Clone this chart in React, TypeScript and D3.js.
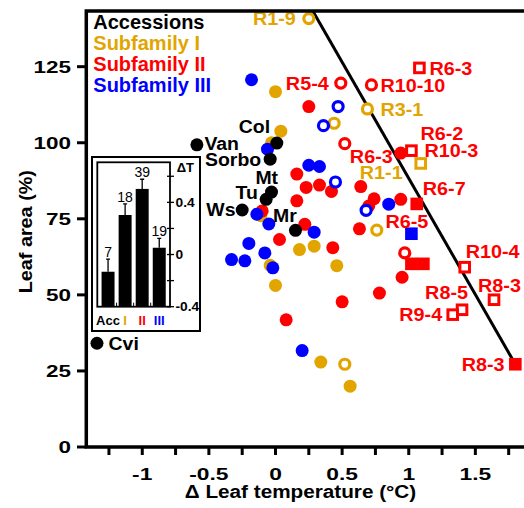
import React, { useRef, useEffect } from 'react';
import * as d3 from 'd3';

const GOLD = '#e2a500';
const RED = '#ff0000';
const BLUE = '#0000ff';

// accessions (black)
const accessionNames = ['Van', 'Col', 'Sorbo', 'Mt', 'Tu', 'Ws', 'Mr', 'Cvi'];
const accessionDT = [-0.59, 0.01, -0.04, -0.03, -0.07, -0.25, 0.15, -1.34];
const accessionArea = [99.3, 99.9, 94.6, 83.8, 81.4, 77.9, 71.2, 34.1];

// subfamily I  [dT, leaf area]
const sub1Dots = [[0, 116.8], [0.04, 103.8], [-0.03, 100], [-0.11, 76], [0.18, 64.9], [0.29, 66], [0.46, 59.6], [-0.04, 59.7], [0, 53.1], [0.34, 27.9], [0.56, 20]];
const sub1Rings = [[0.25, 140.8], [0.69, 111.1], [0.44, 106.4], [0.76, 71.3], [0.52, 27.2]];
const sub1Boxes = [[1.09, 93.2]];

// subfamily II
const sub2Dots = [[0.25, 111.9], [0.94, 96.6], [0.16, 89.7], [0.23, 85.3], [0.33, 86.1], [0.42, 84], [0.64, 85.6], [0.16, 80.9], [0.74, 81.6], [0.7, 79.2], [0.94, 81.4], [0.22, 73.2], [0.63, 71.7], [0.03, 68.2], [0.43, 65.5], [0.95, 55.8], [0.78, 50.6], [0.5, 47.7], [0.08, 41.8], [-0.1, 77.6]];
const sub2Rings = [[0.49, 119.6], [0.72, 119], [0.52, 99.7], [0.97, 63.8]];
const sub2Squares = [[1.06, 79.9], [1.02, 60.2], [1.11, 60.2], [1.8, 27.2]];
const sub2Boxes = [[1.08, 124.6], [1.02, 97.4], [1.42, 59.1], [1.64, 48.4], [1.4, 45.1], [1.33, 43.5]];

// subfamily III
const sub3Dots = [[-0.18, 120.7], [-0.06, 97.9], [0.25, 92.6], [0.33, 92.2], [0.85, 79.8], [0.29, 70.6], [-0.14, 76.5], [-0.05, 73.3], [-0.2, 66.9], [-0.08, 63.8], [-0.33, 61.6], [-0.23, 61.2], [-0.02, 58.9], [0.2, 31.7]];
const sub3Rings = [[0.47, 111.9], [0.36, 105.6], [0.45, 87.1], [0.68, 77.8]];
const sub3Squares = [[1.02, 70.1]];

// fitted line end points
const fitLine = [[0.28, 143.3], [1.8, 27.2]];

// mutant labels: [text, subfamily, dT, area]
const mutantLabels = [
  ['R1-9', 1, 0.25, 140.8], ['R5-4', 2, 0.49, 119.6], ['R10-10', 2, 0.72, 119], ['R6-3', 2, 1.08, 124.6],
  ['R3-1', 1, 0.69, 111.1], ['R6-2', 2, 1.02, 97.4], ['R10-3', 2, 1.02, 97.4], ['R6-3', 2, 0.94, 96.6],
  ['R1-1', 1, 1.09, 93.2], ['R6-7', 2, 1.06, 79.9], ['R6-5', 2, 1.02, 70.1], ['R10-4', 2, 1.42, 59.1],
  ['R8-3', 2, 1.64, 48.4], ['R8-5', 2, 1.4, 45.1], ['R9-4', 2, 1.33, 43.5], ['R8-3', 2, 1.8, 27.2],
];

const legendItems = ['Accessions', 'Subfamily I', 'Subfamily II', 'Subfamily III'];
const yTicks = [0, 25, 50, 75, 100, 125];
const xTickLabels = [-1, -0.5, 0, 0.5, 1, 1.5];

// inset bars
const groupNames = ['Acc', 'I', 'II', 'III'];
const groupDT = [-0.132, 0.303, 0.503, 0.052];
const groupErr = [0.096, 0.085, 0.074, 0.072];
const groupN = [7, 18, 39, 19];
const insetTicks = [-0.4, 0, 0.4];

const colors = ['#000', GOLD, RED, BLUE];
const FONT = "'Liberation Sans', Arial, sans-serif";

// label placement (px offsets from the marker)
const mutantLayout = [
  [-13, 6, 'end'], [-12, 6.5, 'end'], [9, 7, 'start'], [10, 7, 'start'],
  [13, 7, 'start'], [9, -11, 'start'], [13, 6, 'start'], [-8, 10, 'end'],
  [-18, 16, 'end'], [6, -8.5, 'start'], [-26, -6, 'start'], [1, -9, 'start'],
  [-16, -8, 'start'], [6, -11, 'end'], [-10.5, 6.7, 'end'], [-10.7, 6.4, 'end'],
];
const accessionLayout = [
  [7.5, 5, 'start'], [-6.7, -9.7, 'end'], [-9, 6.7, 'end'], [6.6, -8.4, 'end'],
  [-8.4, 0, 'end'], [-6.7, 6, 'end'], [1.3, -8.3, 'end'], [11.6, 6.7, 'start'],
];

const App = () => {
  const svgRef = useRef(null);

  useEffect(() => {
    const svg = d3.select(svgRef.current);
    svg.selectAll('*').remove();

    const x = d3.scaleLinear().domain([-1.42, 1.865]).range([86.3, 524]);
    const y = d3.scaleLinear().domain([0, 143.3]).range([447, 11]);

    const stretch = (sel, k) => sel.each(function () {
      const len = this.getComputedTextLength();
      d3.select(this).attr('textLength', len * k).attr('lengthAdjust', 'spacingAndGlyphs');
    });

    const g = svg.append('g').attr('font-family', FONT).attr('font-weight', 'bold');

    // fit line
    g.append('path')
      .attr('d', d3.line().x(d => x(d[0])).y(d => y(d[1]))(fitLine))
      .attr('stroke', '#000').attr('stroke-width', 3).attr('fill', 'none');

    // markers
    const dots = (data, color) => g.append('g').selectAll('circle').data(data).enter().append('circle')
      .attr('cx', d => x(d[0])).attr('cy', d => y(d[1])).attr('r', 6.5).attr('fill', color);
    const rings = (data, color) => g.append('g').selectAll('circle').data(data).enter().append('circle')
      .attr('cx', d => x(d[0])).attr('cy', d => y(d[1])).attr('r', 5).attr('fill', '#fff')
      .attr('stroke', color).attr('stroke-width', 3.2);
    const squares = (data, color) => g.append('g').selectAll('rect').data(data).enter().append('rect')
      .attr('x', d => x(d[0]) - 6.3).attr('y', d => y(d[1]) - 6.3).attr('width', 12.6).attr('height', 12.6)
      .attr('fill', color);
    const boxes = (data, color) => g.append('g').selectAll('rect').data(data).enter().append('rect')
      .attr('x', d => x(d[0]) - 4.8).attr('y', d => y(d[1]) - 4.8).attr('width', 9.6).attr('height', 9.6)
      .attr('fill', '#fff').attr('stroke', color).attr('stroke-width', 3);

    dots(sub1Dots, GOLD);
    dots(sub2Dots, RED);
    dots(sub3Dots, BLUE);
    rings(sub1Rings, GOLD);
    rings(sub2Rings, RED);
    rings(sub3Rings, BLUE);
    squares(sub2Squares, RED);
    squares(sub3Squares, BLUE);
    boxes(sub1Boxes, GOLD);
    boxes(sub2Boxes, RED);
    dots(accessionDT.map((d, i) => [d, accessionArea[i]]), '#000');

    // labels
    g.append('g').selectAll('text').data(mutantLabels).enter().append('text')
      .attr('x', (d, i) => x(d[2]) + mutantLayout[i][0])
      .attr('y', (d, i) => y(d[3]) + mutantLayout[i][1])
      .attr('text-anchor', (d, i) => mutantLayout[i][2])
      .attr('font-size', 18).attr('fill', d => colors[d[1]])
      .text(d => d[0])
      .call(stretch, 1.1);

    g.append('g').selectAll('text').data(accessionNames).enter().append('text')
      .attr('x', (d, i) => x(accessionDT[i]) + accessionLayout[i][0])
      .attr('y', (d, i) => y(accessionArea[i]) + accessionLayout[i][1])
      .attr('text-anchor', (d, i) => accessionLayout[i][2])
      .attr('font-size', 18).attr('fill', '#000')
      .text(d => d)
      .call(stretch, 1.08);

    // legend
    g.append('g').selectAll('text').data(legendItems).enter().append('text')
      .attr('x', 93.3).attr('y', (d, i) => 29.3 + i * 20.8)
      .attr('font-size', 20).attr('fill', (d, i) => colors[i])
      .text(d => d);

    // frame / axes
    const frame = g.append('g').attr('stroke', '#000').attr('stroke-width', 3.5).attr('fill', 'none');
    frame.append('path').attr('d', `M524,${y(143.3)}H${x(-1.42)}V${y(0)}H524`);

    frame.selectAll('.yt').data(yTicks).enter().append('line')
      .attr('x1', 77).attr('x2', 86).attr('y1', d => y(d)).attr('y2', d => y(d)).attr('stroke-width', 3);
    frame.selectAll('.xt').data(d3.range(-1.25, 1.76, 0.25)).enter().append('line')
      .attr('x1', d => x(d)).attr('x2', d => x(d)).attr('y1', 447).attr('y2', 455).attr('stroke-width', 3);

    g.append('g').selectAll('text').data(yTicks).enter().append('text')
      .attr('x', 71).attr('y', d => y(d) + 6).attr('text-anchor', 'end').attr('font-size', 16.5)
      .text(d => d).call(stretch, 1.36);
    g.append('g').selectAll('text').data(xTickLabels).enter().append('text')
      .attr('x', d => x(d)).attr('y', 480).attr('text-anchor', 'middle').attr('font-size', 16.5)
      .text(d => d).call(stretch, 1.38);

    g.append('text').attr('x', 300.5).attr('y', 498).attr('text-anchor', 'middle').attr('font-size', 18)
      .text('\u0394 Leaf temperature (\u00b0C)').call(stretch, 1.15);
    g.append('text').attr('transform', 'translate(32,231.7) rotate(-90)').attr('text-anchor', 'middle')
      .attr('font-size', 18).text('Leaf area (%)').call(stretch, 1.1);

    // inset
    const inset = g.append('g');
    inset.append('rect').attr('x', 92).attr('y', 157).attr('width', 108).attr('height', 174)
      .attr('fill', '#fff').attr('stroke', '#000').attr('stroke-width', 2);

    const bx = d3.scaleBand().domain(groupNames).range([97.3, 170]).paddingInner(0.24).paddingOuter(0.25);
    const by = d3.scaleLinear().domain([-0.4, 0.707]).range([306.7, 162.3]);

    inset.append('rect').attr('x', 97.3).attr('y', 162.3).attr('width', 170 - 97.3).attr('height', 306.7 - 162.3)
      .attr('fill', 'none').attr('stroke', '#000').attr('stroke-width', 1.8);

    inset.selectAll('.bar').data(groupNames).enter().append('rect')
      .attr('x', d => bx(d)).attr('width', bx.bandwidth())
      .attr('y', (d, i) => by(groupDT[i])).attr('height', (d, i) => by(-0.4) - by(groupDT[i]))
      .attr('fill', '#000');
    inset.selectAll('.err').data(groupNames).enter().append('path')
      .attr('d', (d, i) => {
        const cx = bx(d) + bx.bandwidth() / 2;
        const top = by(groupDT[i] + groupErr[i]);
        return `M${cx},${by(groupDT[i])}V${top}M${cx - 2},${top}H${cx + 2}`;
      })
      .attr('stroke', '#000').attr('stroke-width', 1.3).attr('fill', 'none');
    inset.selectAll('.n').data(groupNames).enter().append('text')
      .attr('x', d => bx(d) + bx.bandwidth() / 2)
      .attr('y', (d, i) => by(groupDT[i] + groupErr[i]) - 2)
      .attr('text-anchor', 'middle').attr('font-size', 14).attr('font-weight', 'normal')
      .text((d, i) => groupN[i]);
    inset.selectAll('.xl').data(groupNames).enter().append('text')
      .attr('x', d => bx(d) + bx.bandwidth() / 2).attr('y', 325)
      .attr('text-anchor', 'middle').attr('font-size', 13)
      .attr('fill', (d, i) => colors[i]).text(d => d);
    inset.selectAll('.xtk').data(d3.range(1, 4)).enter().append('line')
      .attr('x1', d => bx(groupNames[d]) - bx.step() * 0.12).attr('x2', d => bx(groupNames[d]) - bx.step() * 0.12)
      .attr('y1', 306.7).attr('y2', 302.7).attr('stroke', '#000').attr('stroke-width', 1);

    inset.selectAll('.ytk').data(d3.range(-0.4, 0.61, 0.2)).enter().append('line')
      .attr('x1', 167).attr('x2', 174).attr('y1', d => by(d)).attr('y2', d => by(d))
      .attr('stroke', '#000').attr('stroke-width', 1.3);
    inset.selectAll('.ytl').data(insetTicks).enter().append('text')
      .attr('x', 175.5).attr('y', d => by(d) + 4.5).attr('font-size', 12.5)
      .text(d => d).call(stretch, 1.1);
    inset.append('text').attr('x', 176.7).attr('y', 171.7).attr('font-size', 13).text('\u0394T');
  }, []);

  return (
    <svg ref={svgRef} width="524" height="508"
      style={{ position: 'absolute', left: 0, top: 0, background: '#fff' }}></svg>
  );
};

export default App;
